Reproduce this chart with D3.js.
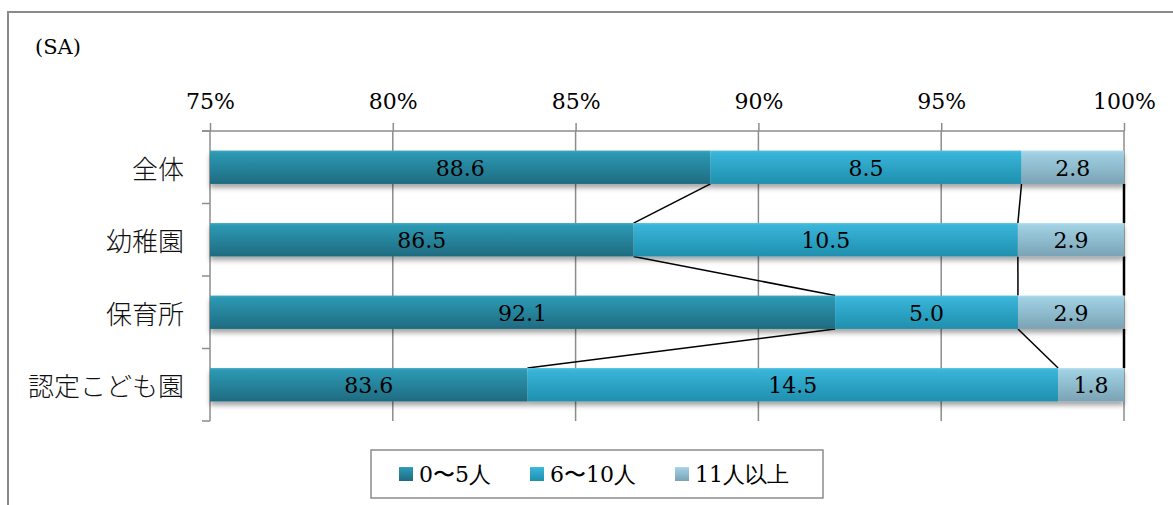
<!DOCTYPE html>
<html>
<head>
<meta charset="utf-8">
<script src="https://cdn.jsdelivr.net/npm/d3@7"></script>
<style>
  html, body { margin: 0; padding: 0; background: #fff; }
  svg { display: block; }
</style>
</head>
<body>
<svg id="chart" width="1173" height="505"></svg>
<script>
// Number of children per group, by facility type (single answer)
const categories = ["全体", "幼稚園", "保育所", "認定こども園"];
const seriesNames = ["0〜5人", "6〜10人", "11人以上"];
const small  = [88.6, 86.5, 92.1, 83.6];
const medium = [8.5, 10.5, 5.0, 14.5];
const large  = [2.8, 2.9, 2.9, 1.8];
const tickValues = [0.75, 0.80, 0.85, 0.90, 0.95, 1.00];
const noteLabel = "(SA)";

const seriesValues = [small, medium, large];
const colors = [
  { top: "#2d98b3", bottom: "#1e6b80", light: "#3fa6c0" },
  { top: "#38b4d8", bottom: "#1f8fae", light: "#4cc0e0" },
  { top: "#a0d0e3", bottom: "#7aa3b5", light: "#b2dcec" }
];

const svg = d3.select("#chart");
const serif = "'DejaVu Serif', 'Liberation Serif', serif";
const jp = "'Noto Sans CJK JP', sans-serif";

// Outer frame
svg.append("path")
  .attr("d", "M8,506 L8,12 L1174,12")
  .attr("fill", "none").attr("stroke", "#8a8a8a").attr("stroke-width", 2);

const defs = svg.append("defs");
colors.forEach((c, i) => {
  const g = defs.append("linearGradient").attr("id", "grad" + i)
    .attr("x1", 0).attr("y1", 0).attr("x2", 0).attr("y2", 1);
  g.append("stop").attr("offset", "0%").attr("stop-color", c.light);
  g.append("stop").attr("offset", "8%").attr("stop-color", c.top);
  g.append("stop").attr("offset", "100%").attr("stop-color", c.bottom);
});
const shadow = defs.append("filter").attr("id", "shadow")
  .attr("x", "-5%").attr("y", "-30%").attr("width", "110%").attr("height", "180%");
shadow.append("feDropShadow").attr("dx", 0).attr("dy", 4)
  .attr("stdDeviation", 2.5).attr("flood-color", "#000").attr("flood-opacity", 0.35);

// Stack rows (normalized to 100%)
const rows = categories.map((cat, i) => {
  const vals = seriesValues.map(s => s[i]);
  const total = d3.sum(vals);
  let acc = 0;
  const segs = vals.map((v, k) => {
    const x0 = acc / total; acc += v; const x1 = acc / total;
    return { cat, k, value: v, x0, x1 };
  });
  return { cat, segs };
});

// Axis starts at 75%, so segments are clipped to the visible range
const x = d3.scaleLinear().domain([0.75, 1.0]).range([210, 1124]).clamp(true);
const y = d3.scaleBand().domain(categories).range([131, 421]).paddingInner(0.54).paddingOuter(0.27);

// Vertical gridlines
svg.append("g").selectAll("line").data(tickValues.slice(1)).join("line")
  .attr("x1", d => x(d)).attr("x2", d => x(d))
  .attr("y1", 131).attr("y2", 421)
  .attr("stroke", "#8c8c8c").attr("stroke-width", 1.5);

// Top axis
const xAxis = d3.axisTop(x).tickValues(tickValues).tickFormat(d3.format(".0%"))
  .tickSize(8).tickSizeOuter(0).tickPadding(14);
const gx = svg.append("g").attr("transform", "translate(0,131)").call(xAxis);
gx.select(".domain").remove();
gx.append("line").attr("x1", 202).attr("x2", 1124).attr("stroke", "#8c8c8c").attr("stroke-width", 1.5);
gx.selectAll(".tick line").attr("stroke", "#8c8c8c").attr("stroke-width", 1.5);
gx.selectAll(".tick text").attr("fill", "#000").attr("font-family", serif).attr("font-size", 22);

// Left axis with category ticks between bands
const gy = svg.append("g");
gy.append("line").attr("x1", 210).attr("x2", 210).attr("y1", 131).attr("y2", 421)
  .attr("stroke", "#8c8c8c").attr("stroke-width", 1.5);
const boundaries = d3.range(categories.length + 1).map(i => 131 + i * (290 / categories.length));
gy.selectAll("line.t").data(boundaries).join("line").attr("class", "t")
  .attr("x1", 202).attr("x2", 210).attr("y1", d => d).attr("y2", d => d)
  .attr("stroke", "#8c8c8c").attr("stroke-width", 1.5);
gy.selectAll("text").data(categories).join("text")
  .attr("x", 184).attr("y", d => y(d) + y.bandwidth() / 2)
  .attr("text-anchor", "end").attr("dominant-baseline", "central")
  .attr("font-family", jp).attr("font-size", 26).attr("font-weight", 300).attr("fill", "#111")
  .text(d => d);

// Series lines connecting segment boundaries between consecutive bars
const sl = svg.append("g");
for (let i = 0; i < rows.length - 1; i++) {
  rows[i].segs.forEach((s, k) => {
    const nxt = rows[i + 1].segs[k];
    sl.append("line")
      .attr("x1", x(s.x1)).attr("y1", y(rows[i].cat) + y.bandwidth())
      .attr("x2", x(nxt.x1)).attr("y2", y(rows[i + 1].cat))
      .attr("stroke", "#000").attr("stroke-width", k === 2 ? 2.5 : 1.5);
  });
}

// Bars
const bars = svg.append("g");
rows.forEach(r => {
  const g = bars.append("g").attr("filter", "url(#shadow)");
  g.selectAll("rect").data(r.segs).join("rect")
    .attr("x", d => x(d.x0)).attr("width", d => x(d.x1) - x(d.x0))
    .attr("y", y(r.cat)).attr("height", y.bandwidth())
    .attr("fill", d => `url(#grad${d.k})`);
});

// Value labels, centred on the visible part of each segment
const labels = svg.append("g");
rows.forEach(r => {
  labels.selectAll(null).data(r.segs).join("text")
    .attr("x", d => (x(d.x0) + x(d.x1)) / 2)
    .attr("y", y(r.cat) + y.bandwidth() / 2 + 1)
    .attr("text-anchor", "middle").attr("dominant-baseline", "central")
    .attr("font-family", serif).attr("font-size", 22).attr("fill", "#000")
    .text(d => d3.format(".1f")(d.value));
});

// Note
svg.append("text").attr("x", 35).attr("y", 47).attr("dominant-baseline", "central")
  .attr("font-family", serif).attr("font-size", 21).attr("fill", "#000").text(noteLabel);

// Legend
const lg = svg.append("g");
lg.append("rect").attr("x", 371).attr("y", 450).attr("width", 452).attr("height", 48)
  .attr("fill", "#fff").attr("stroke", "#8c8c8c").attr("stroke-width", 1.5);
const legendX = [399, 530, 675];
seriesNames.forEach((name, k) => {
  lg.append("rect").attr("x", legendX[k]).attr("y", 467).attr("width", 14).attr("height", 14)
    .attr("fill", `url(#grad${k})`);
  lg.append("text").attr("x", legendX[k] + 20).attr("y", 474)
    .attr("dominant-baseline", "central")
    .attr("font-family", serif).attr("font-size", 22).attr("fill", "#000")
    .text(name);
});
</script>
</body>
</html>
